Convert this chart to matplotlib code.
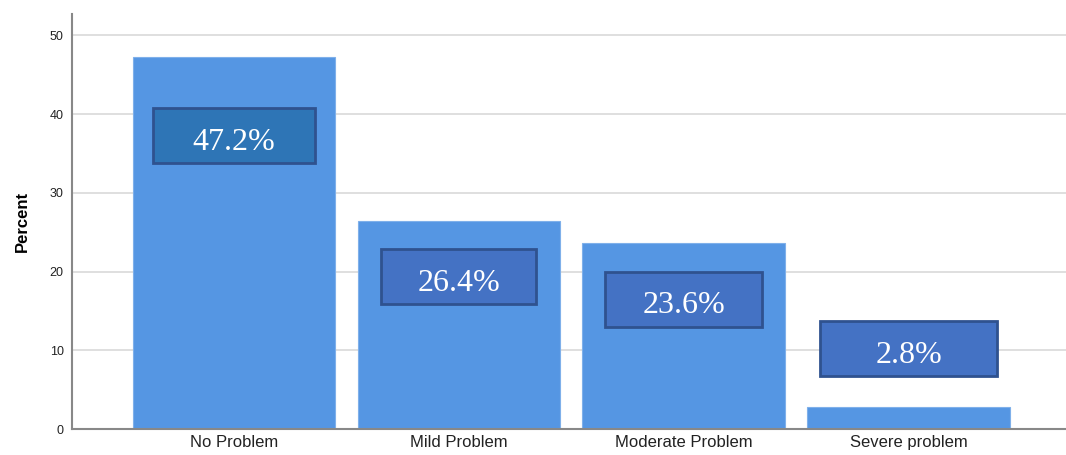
import matplotlib.pyplot as plt
from matplotlib.patches import Rectangle

categories = ['No Problem', 'Mild Problem', 'Moderate Problem', 'Severe problem']
percent = [47.2, 26.4, 23.6, 2.8]
labels = ['47.2%', '26.4%', '23.6%', '2.8%']
# centre of each label box (percent units) and its width (category units)
label_y = [37.25, 19.35, 16.45, 10.2]
box_w = [0.72, 0.69, 0.70, 0.79]
box_fill = ['#2E75B6', '#4472C4', '#4472C4', '#4472C4']

fig = plt.figure(figsize=(10.66, 4.55), dpi=100)
ax = fig.add_axes([0.0675, 0.057, 0.9325, 0.912])

x = range(len(categories))
ax.bar(x, percent, width=0.9, color='#5596E3', edgecolor='#7FB0EA', linewidth=0.8, zorder=2)

# label boxes
for i, (yc, w, fc, txt) in enumerate(zip(label_y, box_w, box_fill, labels)):
    ax.add_patch(Rectangle((i - w / 2, yc - 3.5), w, 7.0, facecolor=fc,
                           edgecolor='#2F528F', linewidth=2, zorder=3))
    ax.text(i, yc - 0.8, txt, ha='center', va='center', color='white',
            fontsize=23, family='Liberation Serif', zorder=4)

ax.set_xlim(-0.72, 3.70)
ax.set_ylim(0, 52.7)
ax.set_xticks(list(x))
ax.set_xticklabels(categories, fontsize=12, family='Liberation Sans', color='#222222')
ax.set_yticks([0, 10, 20, 30, 40, 50])
ax.tick_params(axis='y', labelsize=9, length=0, pad=6, labelcolor='#222222')
ax.tick_params(axis='x', length=0, pad=4)
for t in ax.get_yticklabels():
    t.set_family('Liberation Sans')

ax.set_ylabel('Percent', fontsize=12, fontweight='bold', family='Liberation Sans', labelpad=14)
ax.grid(axis='y', color='#D9D9D9', linewidth=1.2, zorder=0)
ax.set_axisbelow(True)

for s in ['top', 'right']:
    ax.spines[s].set_visible(False)
for s in ['left', 'bottom']:
    ax.spines[s].set_color('#888888')
    ax.spines[s].set_linewidth(1.5)

fig.savefig('out.png', dpi=100)
